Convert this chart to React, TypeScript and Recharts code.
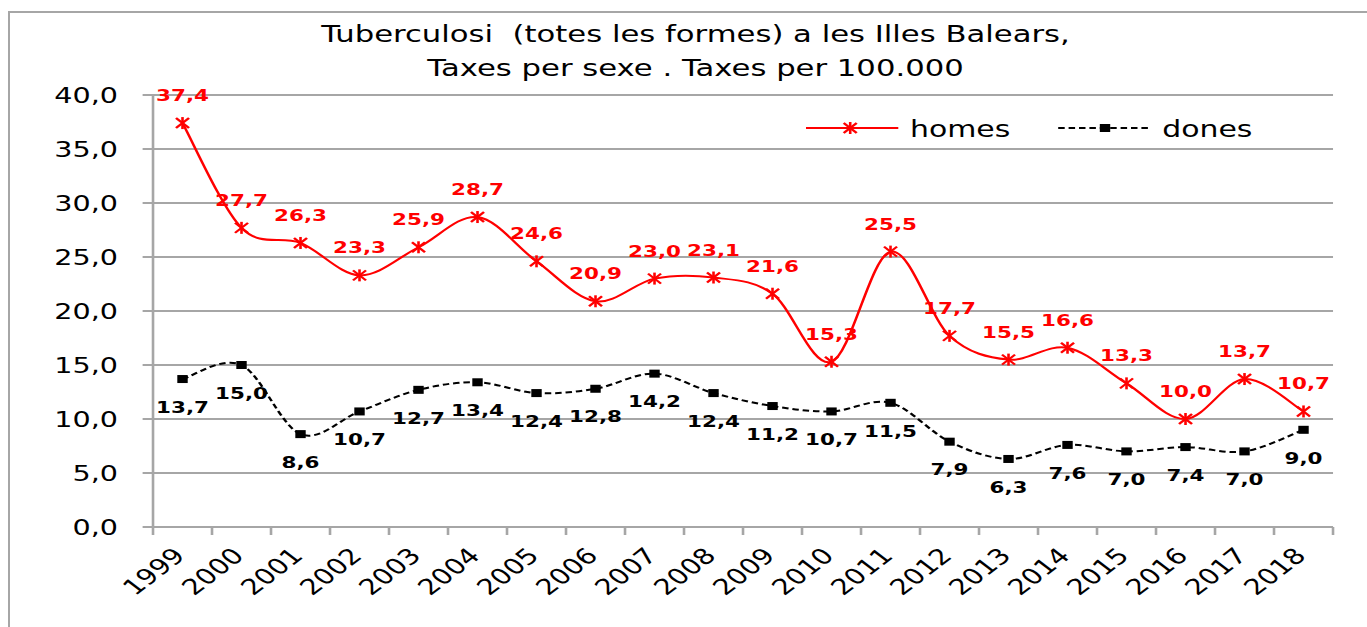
import React from "react";
import {
  LineChart,
  Line,
  XAxis,
  YAxis,
  CartesianGrid,
  LabelList,
  Legend
} from "recharts";

const years = ["1999", "2000", "2001", "2002", "2003", "2004", "2005", "2006", "2007", "2008",
  "2009", "2010", "2011", "2012", "2013", "2014", "2015", "2016", "2017", "2018"];

const homes = [37.4, 27.7, 26.3, 23.3, 25.9, 28.7, 24.6, 20.9, 23.0, 23.1,
  21.6, 15.3, 25.5, 17.7, 15.5, 16.6, 13.3, 10.0, 13.7, 10.7];

const dones = [13.7, 15.0, 8.6, 10.7, 12.7, 13.4, 12.4, 12.8, 14.2, 12.4,
  11.2, 10.7, 11.5, 7.9, 6.3, 7.6, 7.0, 7.4, 7.0, 9.0];

const yTicks = [0, 5, 10, 15, 20, 25, 30, 35, 40];

const seriesOrder = ["homes", "dones"];

const titleLines = [
  "Tuberculosi  (totes les formes) a les Illes Balears,",
  "Taxes per sexe . Taxes per 100.000"
];

// the reference looks stretched sideways, so the chart is drawn narrow and scaled in x
const SX = 1.3;
const W = 1052;
const H = 627;
const FONT = "'DejaVu Sans', Verdana, sans-serif";
const GRID = "#a6a6a6";
const RED = "#ff0000";

const rows = years.map((year, i) => ({ idx: i, year, homes: homes[i], dones: dones[i] }));

// category boundaries (tick marks) and centres (labels)
const xTicks = years.flatMap((_, i) => [i - 0.5, i]).concat(years.length - 0.5);

const fmt = (v: any) => Number(v).toFixed(1).replace(".", ",");

// Excel style smoothed line (Catmull-Rom as bezier)
const excelSmooth: any = (context: any) => {
  let pts: number[][] = [];
  return {
    areaStart() {},
    areaEnd() {},
    lineStart() {
      pts = [];
    },
    point(x: number, y: number) {
      pts.push([+x, +y]);
    },
    lineEnd() {
      const n = pts.length;
      if (!n) return;
      context.moveTo(pts[0][0], pts[0][1]);
      for (let i = 0; i < n - 1; i++) {
        const p0 = pts[Math.max(i - 1, 0)];
        const p1 = pts[i];
        const p2 = pts[i + 1];
        const p3 = pts[Math.min(i + 2, n - 1)];
        context.bezierCurveTo(
          p1[0] + (p2[0] - p0[0]) / 6, p1[1] + (p2[1] - p0[1]) / 6,
          p2[0] - (p3[0] - p1[0]) / 6, p2[1] - (p3[1] - p1[1]) / 6,
          p2[0], p2[1]
        );
      }
    }
  };
};

const star = (cx: number, cy: number, key?: string) => (
  <g key={key}>
    <line x1={cx - 5} y1={cy - 5} x2={cx + 5} y2={cy + 5} stroke={RED} strokeWidth={2} />
    <line x1={cx - 5} y1={cy + 5} x2={cx + 5} y2={cy - 5} stroke={RED} strokeWidth={2} />
    <line x1={cx} y1={cy - 6} x2={cx} y2={cy + 6} stroke={RED} strokeWidth={2} />
  </g>
);

const square = (cx: number, cy: number, key?: string) => (
  <rect key={key} x={cx - 4} y={cy - 4} width={8} height={8} fill="#000" />
);

const StarDot = (props: any) => {
  const { cx, cy, index } = props;
  if (cx == null || cy == null) return null;
  return star(cx, cy, `h${index}`);
};

const SquareDot = (props: any) => {
  const { cx, cy, index } = props;
  if (cx == null || cy == null) return null;
  return square(cx, cy, `d${index}`);
};

const XTick = (props: any) => {
  const { x, y, payload } = props;
  const v = payload.value;
  if (!Number.isInteger(v)) {
    return <line x1={x} y1={y} x2={x} y2={y + 8} stroke={GRID} strokeWidth={2} />;
  }
  const tx = x + 3;
  const ty = y + 30;
  return (
    <text x={tx} y={ty} transform={`rotate(-45 ${tx} ${ty})`} textAnchor="end"
      fontFamily={FONT} fontSize={22} fill="#000">
      {years[v]}
    </text>
  );
};

const renderLegend = (props: any) => {
  const items = [...(props.payload || [])].sort(
    (a: any, b: any) => seriesOrder.indexOf(a.dataKey) - seriesOrder.indexOf(b.dataKey)
  );
  return (
    <svg width={420} height={40} style={{ display: "block" }}>
      {items.map((p: any, i: number) => {
        const x0 = i * 194;
        const isHomes = p.dataKey === "homes";
        return (
          <g key={p.value}>
            <line x1={x0} y1={18} x2={x0 + 71} y2={18} stroke={isHomes ? RED : "#000"}
              strokeWidth={2} strokeDasharray={isHomes ? undefined : "5 3"} />
            {isHomes ? star(x0 + 34, 18) : square(x0 + 36, 18)}
            <text x={x0 + 80} y={27} fontFamily={FONT} fontSize={23} fill="#000">{p.value}</text>
          </g>
        );
      })}
    </svg>
  );
};

function App() {
  return (
    <div style={{ position: "fixed", left: 0, top: 0, width: 1367, height: 627, overflow: "hidden", background: "#fff" }}>
      <div style={{ position: "absolute", left: 8, top: 11, width: 1500, height: 800, border: `2px solid ${GRID}` }} />
      <div style={{ position: "absolute", left: 0, top: 0, width: W, height: H, transform: `scaleX(${SX})`, transformOrigin: "0 0" }}>
        <LineChart width={W} height={H} data={rows} margin={{ top: 95, right: 26.6, bottom: 0, left: 0 }}>
          <CartesianGrid vertical={false} stroke={GRID} strokeWidth={2} />
          <XAxis dataKey="idx" type="number" scale="linear" domain={[-0.5, years.length - 0.5]}
            ticks={xTicks} interval={0} tick={<XTick />} tickLine={false} tickSize={0} tickMargin={0}
            axisLine={{ stroke: GRID, strokeWidth: 2 }} height={100} />
          <YAxis domain={[0, 40]} ticks={yTicks} interval={0} tickFormatter={fmt} width={117.7}
            axisLine={{ stroke: GRID, strokeWidth: 2 }} tickLine={{ stroke: GRID, strokeWidth: 2 }}
            tickSize={8} tickMargin={19}
            tick={{ fontFamily: FONT, fontSize: 22, fill: "#000" }} />
          <Legend layout="horizontal" verticalAlign="middle" align="center" content={renderLegend}
            wrapperStyle={{ position: "absolute", left: 620, top: 110, width: 420, height: 40 }} />
          <Line name="homes" dataKey="homes" type={excelSmooth} stroke={RED} strokeWidth={2}
            dot={<StarDot />} activeDot={false} isAnimationActive={false}>
            <LabelList dataKey="homes" position="top" offset={22} formatter={fmt}
              fill={RED} fontFamily={FONT} fontSize={16.5} fontWeight="bold" />
          </Line>
          <Line name="dones" dataKey="dones" type={excelSmooth} stroke="#000" strokeWidth={2}
            strokeDasharray="5 3" dot={<SquareDot />} activeDot={false} isAnimationActive={false}>
            <LabelList dataKey="dones" position="bottom" offset={22} formatter={fmt}
              fill="#000" fontFamily={FONT} fontSize={16.5} fontWeight="bold" />
          </Line>
        </LineChart>
        <div style={{ position: "absolute", left: 0, top: 17, width: 1070, textAlign: "center",
          fontFamily: FONT, fontSize: 23.6, lineHeight: "34px", whiteSpace: "pre", color: "#000" }}>
          {titleLines.map((t) => <div key={t}>{t}</div>)}
        </div>
      </div>
    </div>
  );
}

export default App;
